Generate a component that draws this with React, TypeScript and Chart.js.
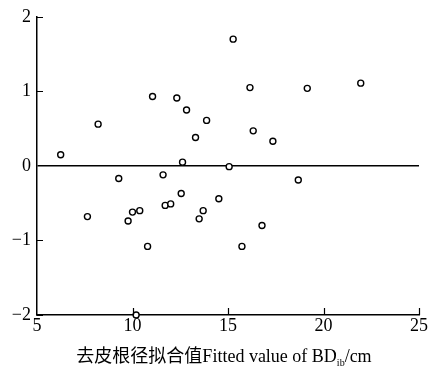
import React, { useEffect, useRef } from "react";
import { Chart, registerables } from "chart.js";

Chart.register(...registerables);

// Fitted values (x) and residuals (y)
const fittedValues: number[] = [
  6.24, 7.64, 8.2, 9.28, 9.77, 10.0, 10.38, 10.19, 10.79, 11.05, 11.6,
  11.71, 12.0, 12.32, 12.55, 12.62, 12.83, 13.3, 13.49, 13.7, 13.88,
  14.52, 15.06, 15.27, 15.73, 16.15, 16.32, 16.78, 17.35, 18.68, 19.15, 21.95,
];
const residuals: number[] = [
  0.15, -0.68, 0.56, -0.17, -0.74, -0.62, -0.6, -2.0, -1.08, 0.93, -0.12,
  -0.53, -0.51, 0.91, -0.37, 0.05, 0.75, 0.38, -0.71, -0.6, 0.61,
  -0.44, -0.01, 1.7, -1.08, 1.05, 0.47, -0.8, 0.33, -0.19, 1.04, 1.11,
];
const xTicks: number[] = [5, 10, 15, 20, 25];
const yTicks: number[] = [-2, -1, 0, 1, 2];
const xTitleMain = "去皮根径拟合值Fitted value of BD";
const xTitleSub = "ib";
const xTitleTail = "/cm";

const FONT = "'Liberation Serif', 'Times New Roman', 'Noto Sans CJK SC', serif";

export default function App() {
  const ref = useRef<HTMLCanvasElement | null>(null);

  useEffect(() => {
    document.body.style.margin = "0";
    const canvas = ref.current;
    if (!canvas) return;

    const extras = {
      id: "extras",
      afterDraw(chart: any) {
        const ctx = chart.ctx;
        const area = chart.chartArea;
        const xs = chart.scales.x;
        const ys = chart.scales.y;
        ctx.save();
        ctx.strokeStyle = "#000";
        ctx.lineWidth = 1.2;
        ctx.beginPath();
        yTicks.forEach((v) => {
          if (v === 0) return;
          const py = Math.round(ys.getPixelForValue(v)) + 0.5;
          ctx.moveTo(area.left, py);
          ctx.lineTo(area.left + 6, py);
        });
        xTicks.forEach((v) => {
          if (v === xTicks[0]) return;
          const px = Math.round(xs.getPixelForValue(v)) + 0.5;
          ctx.moveTo(px, area.bottom);
          ctx.lineTo(px, area.bottom - 7);
        });
        ctx.stroke();

        // axis title with subscript
        ctx.fillStyle = "#000";
        ctx.textBaseline = "alphabetic";
        const mainFont = `18px ${FONT}`;
        const subFont = `10px ${FONT}`;
        ctx.font = mainFont;
        const w1 = ctx.measureText(xTitleMain).width;
        const w3 = ctx.measureText(xTitleTail).width;
        ctx.font = subFont;
        const w2 = ctx.measureText(xTitleSub).width;
        const total = w1 + w2 + w3;
        let x0 = 224 - total / 2;
        const base = 362;
        ctx.textAlign = "left";
        ctx.font = mainFont;
        ctx.fillText(xTitleMain, x0, base);
        x0 += w1;
        ctx.font = subFont;
        ctx.fillText(xTitleSub, x0, base + 4);
        x0 += w2;
        ctx.font = mainFont;
        ctx.fillText(xTitleTail, x0, base);
        ctx.restore();
      },
    };

    const chart = new Chart(canvas, {
      type: "scatter",
      data: {
        datasets: [
          {
            data: fittedValues.map((x, i) => ({ x, y: residuals[i] })),
            pointRadius: 3,
            pointBorderWidth: 1.4,
            pointBorderColor: "#000",
            pointBackgroundColor: "#fff",
            pointHoverRadius: 3,
            clip: false,
          },
        ],
      },
      options: {
        responsive: false,
        animation: false,
        layout: { padding: { top: 15, right: 16, bottom: 0, left: 0 } },
        plugins: {
          legend: { display: false },
          tooltip: { enabled: false },
        },
        scales: {
          x: {
            type: "linear",
            min: 5,
            max: 25,
            afterBuildTicks: (s: any) => {
              s.ticks = xTicks.map((v) => ({ value: v }));
            },
            afterFit: (s: any) => {
              s.height = 56;
            },
            ticks: {
              color: "#000",
              font: { family: FONT, size: 18 },
              padding: 0,
              maxRotation: 0,
            },
            grid: { display: true, color: "transparent", drawTicks: false },
            border: { display: true, color: "#000", width: 1.5 },
          },
          y: {
            type: "linear",
            min: -2,
            max: 2,
            afterBuildTicks: (s: any) => {
              s.ticks = yTicks.map((v) => ({ value: v }));
            },
            afterFit: (s: any) => {
              s.width = 37;
            },
            ticks: {
              color: "#000",
              font: { family: FONT, size: 18 },
              padding: 6,
              callback: (v: any) => String(v).replace("-", "\u2212"),
            },
            grid: {
              display: true,
              drawTicks: false,
              color: (c: any) => (c.tick && c.tick.value === 0 ? "#000" : "transparent"),
              lineWidth: 1.5,
            },
            border: { display: true, color: "#000", width: 1.5 },
          },
        },
      },
      plugins: [extras],
    });

    return () => chart.destroy();
  }, []);

  return (
    <div style={{ width: 435, height: 371, background: "#fff" }}>
      <canvas ref={ref} width={435} height={371} />
    </div>
  );
}
